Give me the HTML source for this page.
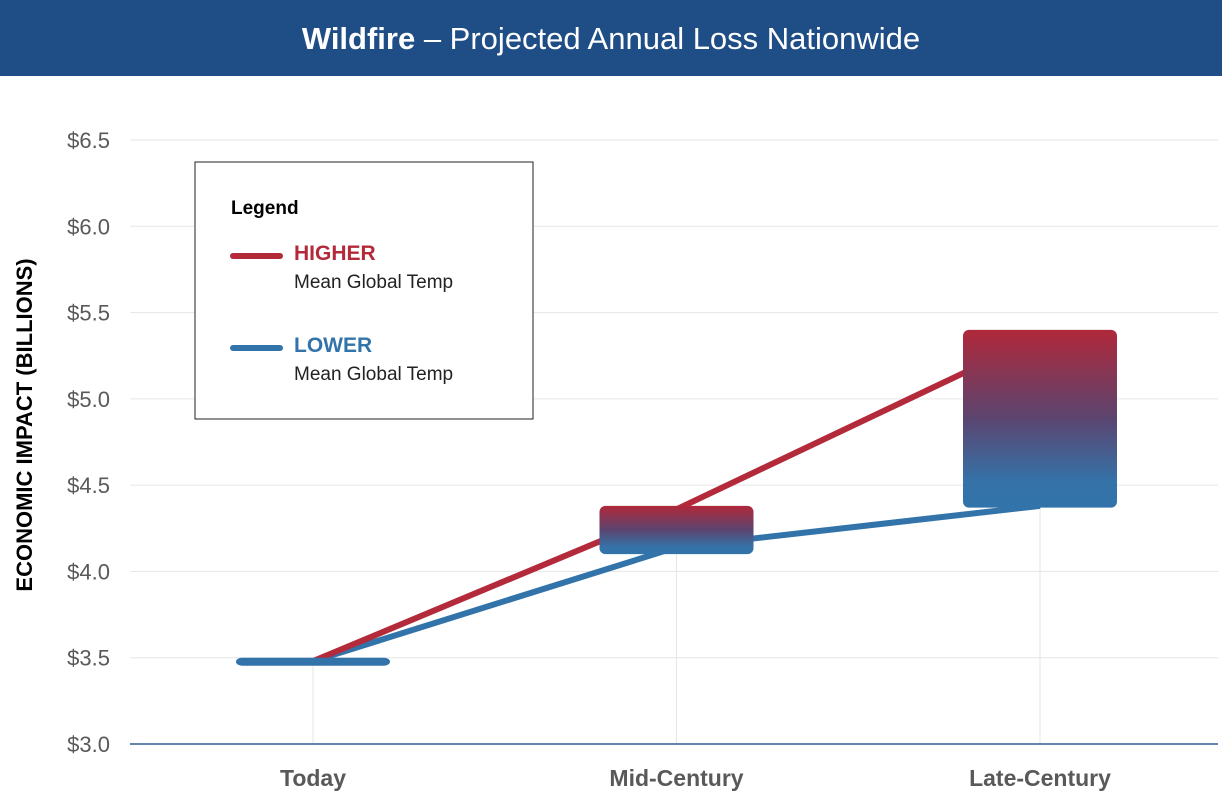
<!DOCTYPE html>
<html><head><meta charset="utf-8"><style>
body{margin:0;width:1222px;height:800px;background:#fff;overflow:hidden;font-family:"Liberation Sans",Arial,sans-serif}
</style></head><body>
<svg width="1222" height="800" id="chart">
<defs><linearGradient id="g" x1="0" y1="0" x2="0" y2="1"><stop offset="0" stop-color="#b0283a"/><stop offset="0.5" stop-color="#5b4570"/><stop offset="0.85" stop-color="#3572a8"/><stop offset="1" stop-color="#3274aa"/></linearGradient></defs>
<rect x="0" y="0" width="1222" height="76" fill="#1f4e86"/>
<text x="611" y="49" text-anchor="middle" fill="#fff" font-size="31"><tspan font-weight="bold">Wildfire</tspan> – Projected Annual Loss Nationwide</text>
<g id="grid"></g><g id="lines"></g><g id="boxes"></g>
<text transform="translate(32,425) rotate(-90)" text-anchor="middle" font-size="22" font-weight="bold" fill="#000">ECONOMIC IMPACT (BILLIONS)</text>
<g>
<rect x="195" y="162" width="338" height="257" fill="#fff" stroke="#222" stroke-width="1"/>
<text x="231" y="214" font-size="19" font-weight="bold">Legend</text>
<line x1="233" y1="256" x2="280" y2="256" stroke="#b32b3b" stroke-width="6" stroke-linecap="round"/>
<text x="294" y="260" font-size="21" font-weight="bold" fill="#b32b3b">HIGHER</text>
<text x="294" y="288" font-size="19" fill="#222">Mean Global Temp</text>
<line x1="233" y1="348" x2="280" y2="348" stroke="#3274aa" stroke-width="6" stroke-linecap="round"/>
<text x="294" y="352" font-size="21" font-weight="bold" fill="#3274aa">LOWER</text>
<text x="294" y="380" font-size="19" fill="#222">Mean Global Temp</text>
</g>
</svg>
<script>
const categories=["Today","Mid-Century","Late-Century"];
const higher=[3.48,4.36,5.36];
const lower=[3.48,4.14,4.38];
const boxHigh=[3.50,4.38,5.40];
const boxLow=[3.46,4.10,4.37];
const yTicks=[3.0,3.5,4.0,4.5,5.0,5.5,6.0,6.5];
const NS="http://www.w3.org/2000/svg";
const y=v=>744-(v-3.0)*(604/3.5);
const x=i=>313+i*363.5;
function mk(t,a,p){const e=document.createElementNS(NS,t);for(const k in a)e.setAttribute(k,a[k]);p.appendChild(e);return e;}
const grid=document.getElementById('grid');
yTicks.forEach(v=>{
 if(v>3.0){const l=mk('line',{x1:130,x2:1218,y1:y(v),y2:y(v),stroke:'#e6e6e6','stroke-width':1},grid);
 
 }
 const t=mk('text',{x:110,y:y(v)+8,'text-anchor':'end','font-size':22,fill:'#595959'},grid);t.textContent='$'+v.toFixed(1);
 
 
});
categories.forEach((c,i)=>{
 const l=mk('line',{x1:x(i),x2:x(i),y1:y(Math.min(boxLow[i],lower[i])),y2:744,stroke:'#e6e6e6'},grid);
 
 
 const t=mk('text',{x:x(i),y:786,'text-anchor':'middle','font-size':23,'font-weight':'bold',fill:'#595959'},grid);t.textContent=c;
 
 
});
const ax=mk('line',{x1:130,x2:1218,y1:744,y2:744,stroke:'#2f5f93','stroke-width':1.5},grid);


const lines=document.getElementById('lines');
[[lower,'#3274aa','lower-line'],[higher,'#b32b3b','higher-line']].forEach(([d,c,n])=>{
 const p=mk('polyline',{points:d.map((v,i)=>x(i)+','+y(v)).join(' '),fill:'none',stroke:c,'stroke-width':6},lines);
 
 
});
const boxes=document.getElementById('boxes');
categories.forEach((c,i)=>{
 const h=y(boxLow[i])-y(boxHigh[i]);
 const r=mk('rect',{x:x(i)-77,y:y(boxHigh[i]),width:154,height:Math.max(h,8),rx:6,fill:h<12?'#3274aa':'url(#g)'},boxes);
 
 
});
</script>
</body></html>
